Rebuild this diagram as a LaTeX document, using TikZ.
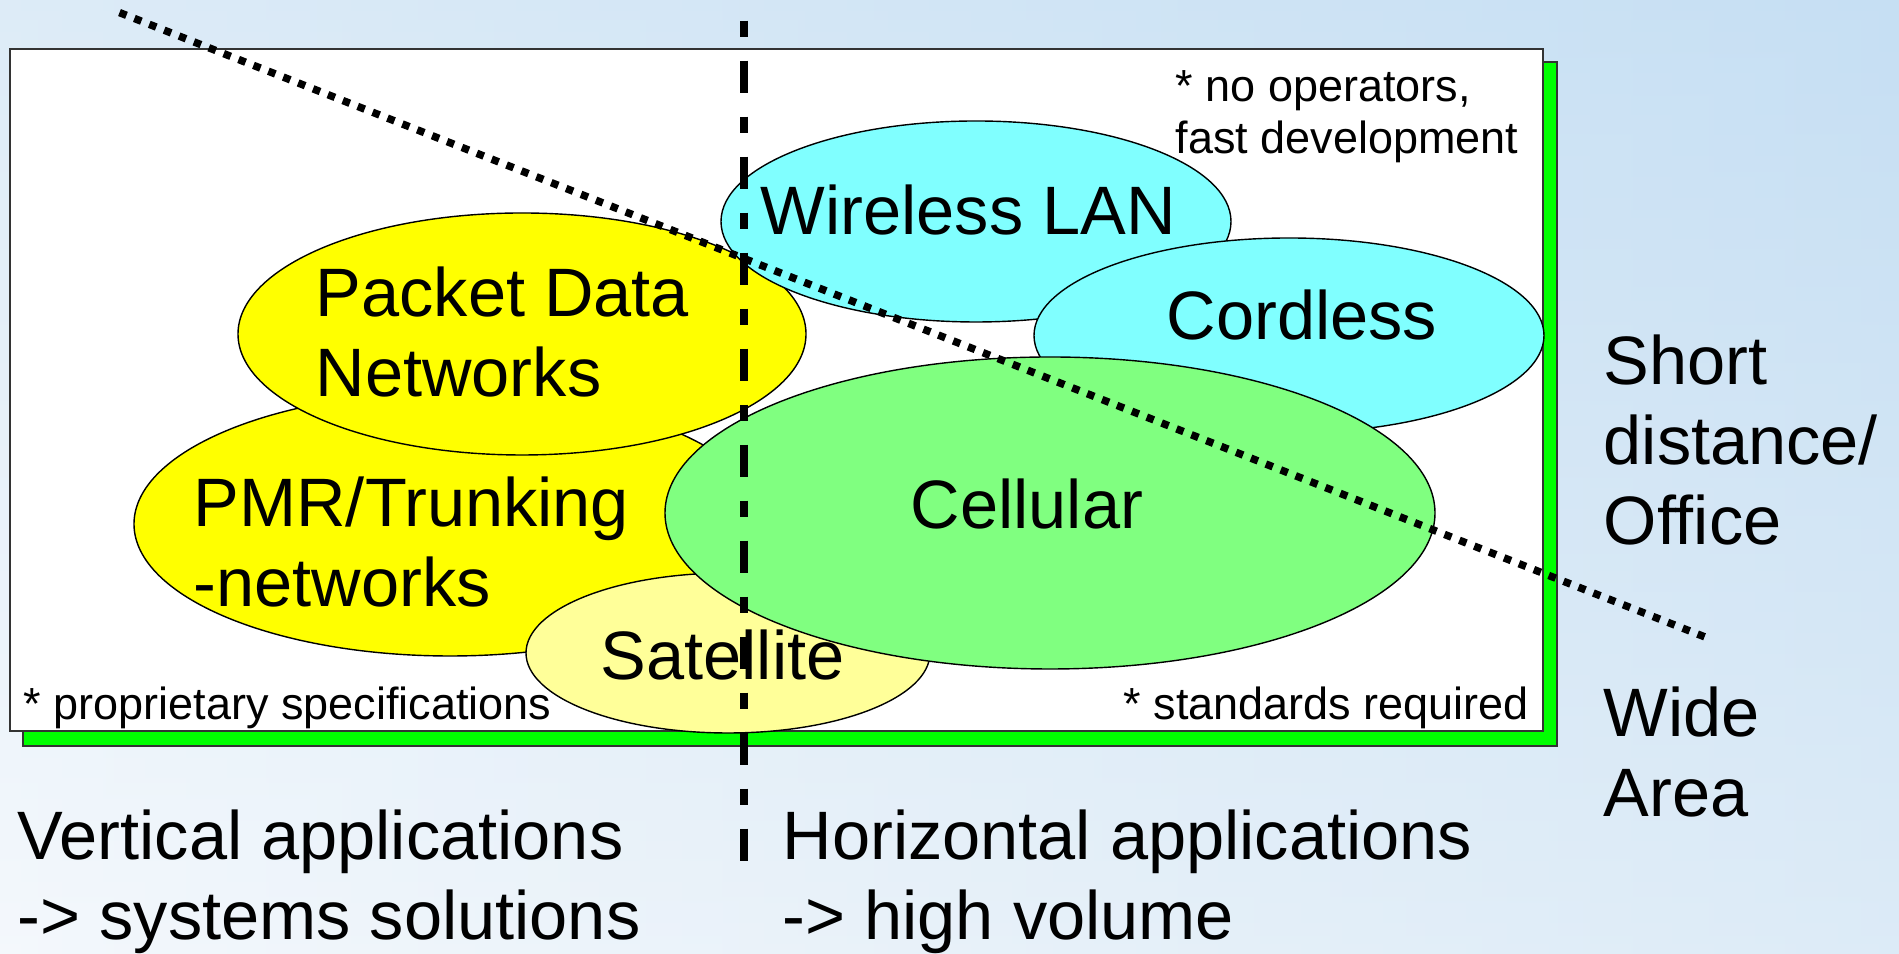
\documentclass[tikz,border=0pt]{standalone}
\usepackage{fontspec}
\setmainfont{Liberation Sans}
\usetikzlibrary{shapes.geometric}
\definecolor{bgtop}{RGB}{198,223,243}
\definecolor{bgbot}{RGB}{244,248,252}
\definecolor{shadowgreen}{RGB}{0,255,0}
\definecolor{blobyellow}{RGB}{255,255,0}
\definecolor{blobpale}{RGB}{255,255,153}
\definecolor{blobcyan}{RGB}{128,255,255}
\definecolor{blobgreen}{RGB}{128,255,128}
\begin{document}
\begin{tikzpicture}[x=1cm, y=-1cm,
  blob/.style={ellipse, draw=black, line width=0.4pt, inner sep=0pt, outer sep=0pt},
  panel/.style={draw=black!80, line width=0.5pt, anchor=north west, inner sep=0pt, outer sep=0pt},
  bigtxt/.style={anchor=base west, inner sep=0pt, align=left, font=\fontsize{19.5}{22.8}\selectfont},
  smalltxt/.style={anchor=base west, inner sep=0pt, align=left, font=\fontsize{12.8}{14.8}\selectfont}]
\useasboundingbox (0,0) rectangle (18.99,9.54);
\shade[top color=bgtop, bottom color=bgbot] (0,0) rectangle (18.99,9.54);
\shade[left color=bgbot, right color=bgtop, opacity=0.5] (0,0) rectangle (18.99,9.54);
% framed area with its green shadow
\node[panel, fill=shadowgreen, minimum width=15.34cm, minimum height=6.84cm] (shadow) at (0.23,0.62) {};
\node[panel, fill=white, minimum width=15.33cm, minimum height=6.82cm] (frame) at (0.10,0.49) {};
% the system families
\node[blob, fill=blobyellow, minimum width=6.32cm, minimum height=2.64cm] (pmr) at (4.50,5.24) {};
\node[blob, fill=blobyellow, minimum width=5.68cm, minimum height=2.42cm] (pd) at (5.22,3.34) {};
\node[blob, fill=blobpale, minimum width=4.04cm, minimum height=1.60cm] (sat) at (7.28,6.53) {};
\node[blob, fill=blobcyan, minimum width=5.10cm, minimum height=2.01cm] (wlan) at (9.76,2.215) {};
\node[blob, fill=blobcyan, minimum width=5.10cm, minimum height=1.95cm] (cord) at (12.89,3.355) {};
\node[blob, fill=blobgreen, minimum width=7.70cm, minimum height=3.12cm] (cell) at (10.50,5.13) {};
% base anchor of a two-line text sits on its last line
\node[bigtxt] (pdtxt) at (3.15,3.97) {Packet Data\\Networks};
\node[bigtxt] (pmrtxt) at (1.93,6.07) {PMR/Trunking\\-networks};
\node[bigtxt] (sattxt) at (6.00,6.80) {Satellite};
\node[bigtxt] (wlantxt) at (7.60,2.35) {Wireless LAN};
\node[bigtxt] (cordtxt) at (11.66,3.40) {Cordless};
\node[bigtxt] (celltxt) at (9.10,5.29) {Cellular};
% notes inside the frame
\node[smalltxt] (fastnote) at (11.75,1.54) {* no operators,\\fast development};
\node[smalltxt] (propnote) at (0.23,7.20) {* proprietary specifications};
\node[smalltxt] (stdnote) at (11.23,7.20) {* standards required};
% labels outside
\node[bigtxt] (shortlbl) at (16.03,5.45) {Short\\distance/\\Office};
\node[bigtxt] (widelbl) at (16.03,8.17) {Wide\\Area};
\node[bigtxt] (vertlbl) at (0.17,9.40) {Vertical applications\\-> systems solutions};
\node[bigtxt] (horilbl) at (7.82,9.40) {Horizontal applications\\-> high volume};
% dividing lines
\coordinate (divtop) at (7.44,0.207);
\coordinate (divbot) at (7.44,8.607);
\draw[line width=0.075cm, dash pattern=on 0.16cm off 0.24cm on 0.32cm off 0.24cm] (divtop) -- (divbot);
\coordinate (slopetop) at (1.195,0.126);
\coordinate (slopebot) at (17.05,6.37);
\draw[line width=0.075cm, dash pattern=on 0.075cm off 0.085cm] (slopetop) -- (slopebot);
\end{tikzpicture}
\end{document}
